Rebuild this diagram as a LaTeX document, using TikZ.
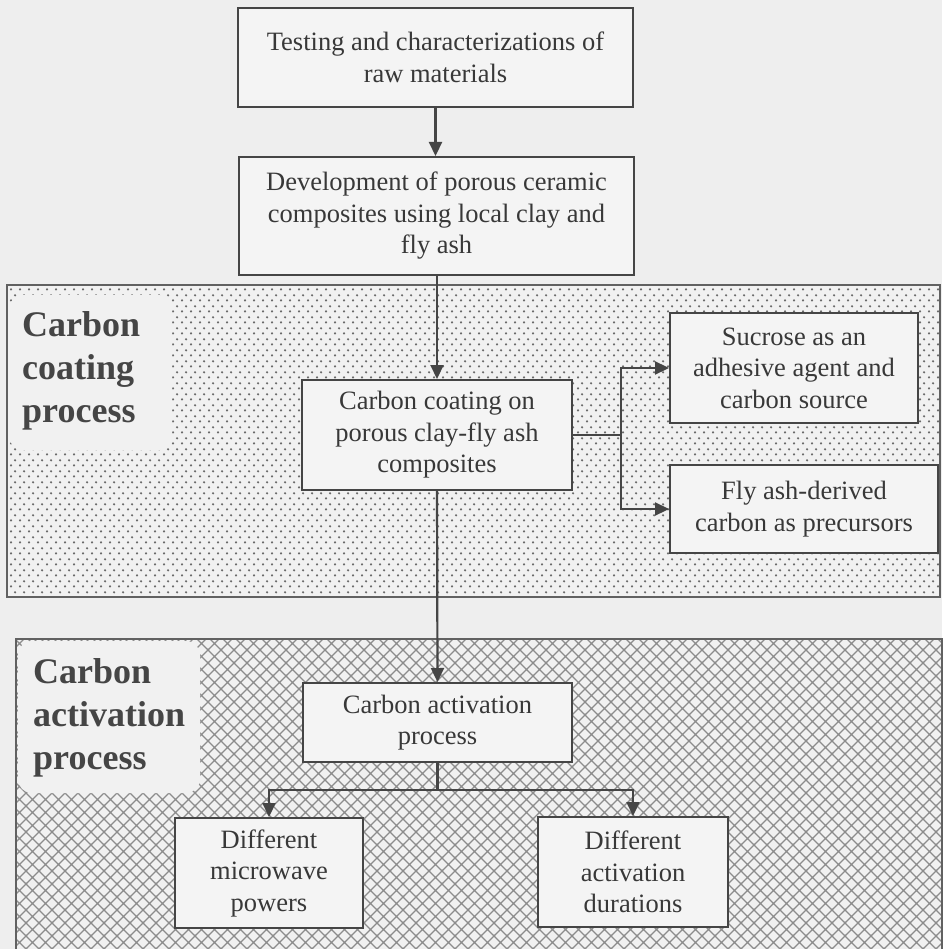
\documentclass[tikz,border=0pt]{standalone}
\usepackage{fontspec}
\setmainfont{Liberation Serif}
\usetikzlibrary{arrows.meta,patterns.meta}
\definecolor{pagebg}{HTML}{EEEEEE}
\definecolor{regionbg}{HTML}{F1F1F1}
\definecolor{boxfill}{HTML}{F4F4F4}
\definecolor{ink}{HTML}{383838}
\definecolor{edge}{HTML}{454545}
\definecolor{dotc}{HTML}{6A6A6A}
\definecolor{hatchc}{HTML}{8C8C8C}
\tikzdeclarepattern{name=scandots, type=uncolored,
  bounding box={(0pt,0pt) and (9pt,10.6pt)}, tile size={(9pt,10.6pt)},
  code={\fill (2.25pt,2.65pt) circle (1.3pt); \fill (6.75pt,7.95pt) circle (1.3pt);}}
\tikzdeclarepattern{name=scanhatch, type=uncolored,
  bounding box={(-1pt,-1pt) and (14pt,14pt)}, tile size={(13pt,13pt)},
  code={\draw[line width=1.2pt] (-1pt,-1pt)--(14pt,14pt) (-1pt,14pt)--(14pt,-1pt);}}
\tikzset{
  stepbox/.style={draw=edge, line width=2pt, fill=boxfill, text=ink, align=center,
    inner sep=0pt, font=\fontsize{26.5}{31.5}\selectfont},
  flow/.style={draw=edge, line width=2.2pt, -{Triangle[length=14pt,width=13pt]}},
  plainline/.style={draw=edge, line width=2.2pt},
  region/.style={draw=edge!85, line width=1.8pt},
  regionlabel/.style={anchor=north west, align=left, inner sep=0pt, text=edge,
    font=\bfseries\fontsize{36}{43}\selectfont},
  blob/.style={fill=regionbg, draw=none, rounded corners=14pt}
}
\begin{document}
\begin{tikzpicture}[x=1pt,y=-1pt]
\useasboundingbox[fill=pagebg] (0,0) rectangle (942,949);
% regions
\fill[regionbg] (7,285) rectangle (940,597);
\fill[pattern={scandots}, pattern color=dotc] (7,285) rectangle (940,597);
\draw[region] (7,285) rectangle (940,597);
\fill[regionbg] (16,639) rectangle (942,952);
\fill[pattern={scanhatch}, pattern color=hatchc] (16,639) rectangle (942,952);
\draw[region] (16,639) rectangle (942,952);
% label blobs
\fill[blob] (9,295) rectangle (172,450);
\fill[blob] (18,641) rectangle (200,793);
\node[regionlabel] (lab1) at (22,311) {Carbon\\coating\\process};
\node[regionlabel] (lab2) at (33,658) {Carbon\\activation\\process};
% boxes
\node[stepbox, minimum width=395pt, minimum height=99pt] (b1) at (435.5,57.5)
  {Testing and characterizations of\\raw materials};
\node[stepbox, minimum width=395pt, minimum height=118pt] (b2) at (436.5,216)
  {Development of porous ceramic\\composites using local clay and\\fly ash};
\node[stepbox, minimum width=270pt, minimum height=110pt] (b3) at (437,435)
  {Carbon coating on\\porous clay-fly ash\\composites};
\node[stepbox, minimum width=248pt, minimum height=110pt] (b4) at (794,368)
  {Sucrose as an\\adhesive agent and\\carbon source};
\node[stepbox, minimum width=268pt, minimum height=88pt] (b5) at (804,509)
  {Fly ash-derived\\carbon as precursors};
\node[stepbox, minimum width=269pt, minimum height=79pt] (b6) at (437.5,722.5)
  {Carbon activation\\process};
\node[stepbox, minimum width=188pt, minimum height=110pt] (b7) at (269,873)
  {Different\\microwave\\powers};
\node[stepbox, minimum width=190pt, minimum height=110pt] (b8) at (633,872)
  {Different\\activation\\durations};
% connectors
\coordinate (j1) at (621,435);
\coordinate (j2) at (437.5,790);
\draw[flow] (b1.south) -- (b2.north -| b1.south);
\draw[flow] (b2.south -| b3.north) -- (b3.north);
\draw[plainline] (b3.east) -- (j1);
\draw[flow] (j1) |- (b4.west);
\draw[flow] (j1) |- (b5.west);
\draw[flow] (b3.south) -- (b6.north);
\draw[plainline] (b6.south) -- (j2);
\draw[flow] (j2) -| (b7.north);
\draw[flow] (j2) -| (b8.north);
\end{tikzpicture}
\end{document}
